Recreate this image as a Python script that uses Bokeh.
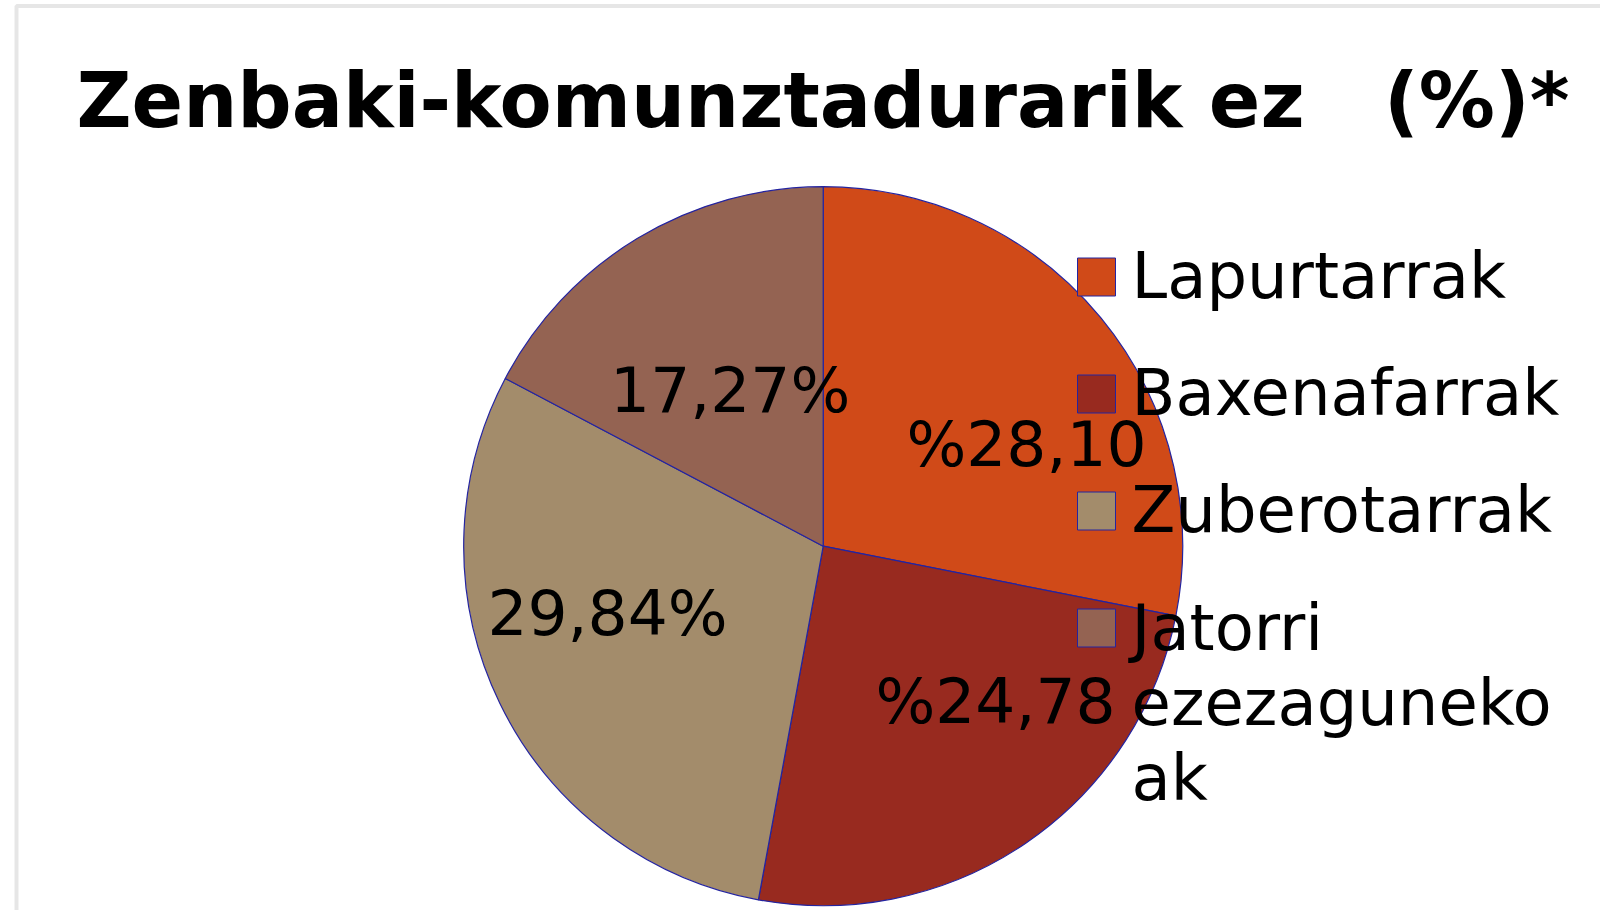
import math
from bokeh.plotting import figure
from bokeh.models import Range1d, ColumnDataSource, BoxAnnotation
from bokeh.core.properties import value
from bokeh.embed import file_html
from bokeh.resources import INLINE

# ---- data ----
categories = ["Lapurtarrak", "Baxenafarrak", "Zuberotarrak", "Jatorri ezezagunekoak"]
percent = [28.10, 24.78, 29.84, 17.27]
labels = ["%28,10", "%24,78", "29,84%", "17,27%"]
legend_labels = ["Lapurtarrak", "Baxenafarrak", "Zuberotarrak", "Jatorri\nezezaguneko\nak"]
colors = ["#D04A18", "#982A1F", "#A38C6B", "#946352"]
title_text = "Zenbaki-komunztadurarik ez\u00a0\u00a0\u00a0(%)*"

# ---- layout (pixel-like coordinates, y up) ----
W, H = 1600, 910
CX, CY, R = 822.7, 364.3, 359.5
LABEL_SIZE, LEGEND_SIZE, TITLE_SIZE = 63, 64, 76
label_dx = [203.3, 172.3, -215.7, -93.0]
label_dy = [76.7, -180.3, -92.3, 130.7]
FONT = "DejaVu Sans"


def fix(size):
    return 0.39 * size


p = figure(width=W, height=H, output_backend="svg", toolbar_location=None,
           x_range=Range1d(0, W), y_range=Range1d(0, H),
           min_border=0, outline_line_color=None)
p.axis.visible = False
p.grid.visible = False
p.background_fill_color = "white"
p.border_fill_color = "white"

# frame
p.add_layout(BoxAnnotation(left=16, right=3000, bottom=-500, top=H - 5.5,
                           fill_alpha=0, line_color="#ABABAB", line_width=4))

total = sum(percent)
starts, ends = [], []
cum = 0.0
for v in percent:
    starts.append(math.radians(90 - cum / total * 360))
    cum += v
    ends.append(math.radians(90 - cum / total * 360))

src = ColumnDataSource(dict(start=starts, end=ends, color=colors, cat=categories))
p.wedge(x=CX, y=CY, radius=R, start_angle="start", end_angle="end",
        direction="clock", fill_color="color", line_color="#2424A0",
        line_width=1.2, source=src)

# slice labels
lsrc = ColumnDataSource(dict(x=[CX + d for d in label_dx],
                             y=[CY + d + fix(LABEL_SIZE) for d in label_dy], t=labels))
p.text(x="x", y="y", text="t", source=lsrc, text_font=value(FONT),
       text_font_size=f"{LABEL_SIZE}px", text_align="center", text_baseline="alphabetic",
       text_color="black")

# title
p.text(x=[76], y=[H - 130 + fix(TITLE_SIZE)], text=[title_text], text_font=value(FONT),
       text_font_size=f"{TITLE_SIZE}px", text_font_style="bold", text_baseline="alphabetic",
       text_color="black")

# legend
LX, LTOP, LSTEP, LS, LINE = 1096, 633.5, 117, 38, 75.5
ly = [LTOP - i * LSTEP for i in range(len(categories))]
ty = []
for yv, lab in zip(ly, legend_labels):
    n = lab.count("\n") + 1
    ty.append(yv - 24 + fix(LEGEND_SIZE) - (n - 1) / 2 * LINE)
gsrc = ColumnDataSource(dict(x=[LX] * len(categories), y=ly, color=colors,
                             tx=[LX + 35] * len(categories), ty=ty,
                             t=legend_labels))
p.rect(x="x", y="y", width=LS, height=LS, fill_color="color",
       line_color="#2424A0", line_width=1, source=gsrc)
p.text(x="tx", y="ty", text="t", source=gsrc, text_font=value(FONT),
       text_font_size=f"{LEGEND_SIZE}px", text_baseline="alphabetic",
       text_line_height=LINE / (1.164 * LEGEND_SIZE), text_color="black")

open("out.html", "w").write(file_html(p, INLINE))
